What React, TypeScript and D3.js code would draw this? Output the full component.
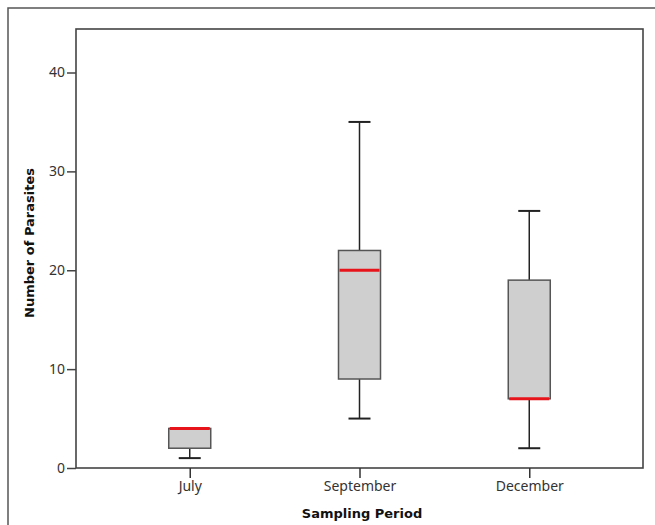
import React, { useEffect, useRef } from 'react';
import * as d3 from 'd3';

// box plot stats
const periods = ['July', 'September', 'December'];
const whiskerLow = [1, 5, 2];
const q1 = [2, 9, 7];
const medians = [4, 20, 7];
const q3 = [4, 22, 19];
const whiskerHigh = [4, 35, 26];
const yTicks = [0, 10, 20, 30, 40];

const width = 655;
const height = 525;

export default function App() {
  const ref = useRef<SVGSVGElement>(null);

  useEffect(() => {
    drawChart();
  }, []);

  function drawChart() {
    const svg = d3.select(ref.current);
    svg.selectAll('*').remove();

    const left = 76, right = 643, top = 29, bottom = 468;

    const x = d3.scalePoint().domain(periods).range([left, right]).padding(0.67);
    const y = d3.scaleLinear().domain([0, 44.4]).range([bottom, top]);

    // outer frame (only left and top edges are visible)
    svg.append('path')
      .attr('d', `M8,${height} V8 H${width}`)
      .attr('fill', 'none')
      .attr('stroke', '#555')
      .attr('stroke-width', 1.5);

    // plot frame
    svg.append('rect')
      .attr('x', left).attr('y', top)
      .attr('width', right - left).attr('height', bottom - top)
      .attr('fill', 'none')
      .attr('stroke', '#444')
      .attr('stroke-width', 1.6);

    const yAxis = svg.append('g')
      .attr('transform', `translate(${left},0)`)
      .call(d3.axisLeft(y).tickValues(yTicks).tickSize(9).tickPadding(2).tickFormat(d3.format('d')));
    yAxis.select('.domain').remove();
    yAxis.selectAll('line').attr('stroke', '#444').attr('stroke-width', 1.5);
    yAxis.selectAll('text')
      .attr('font-family', '"Noto Sans", sans-serif')
      .attr('font-size', 14)
      .attr('fill', '#333');

    const xAxis = svg.append('g')
      .attr('transform', `translate(0,${bottom})`)
      .call(d3.axisBottom(x).tickSize(10).tickPadding(3));
    xAxis.select('.domain').remove();
    xAxis.selectAll('line').attr('stroke', '#333').attr('stroke-width', 1.5);
    xAxis.selectAll('text')
      .attr('font-family', '"Noto Sans", sans-serif')
      .attr('font-size', 14)
      .attr('fill', '#333');

    const boxW = 42;
    const capW = 22;
    const g = svg.append('g');

    periods.forEach((p, i) => {
      const cx = x(p) as number;
      // whiskers
      g.append('line')
        .attr('x1', cx).attr('x2', cx)
        .attr('y1', y(whiskerHigh[i])).attr('y2', y(q3[i]))
        .attr('stroke', '#222').attr('stroke-width', 1.5);
      g.append('line')
        .attr('x1', cx).attr('x2', cx)
        .attr('y1', y(q1[i])).attr('y2', y(whiskerLow[i]))
        .attr('stroke', '#222').attr('stroke-width', 1.5);
      [whiskerLow[i], whiskerHigh[i]].forEach((v) => {
        if (v === q1[i] || v === q3[i]) return;
        g.append('line')
          .attr('x1', cx - capW / 2).attr('x2', cx + capW / 2)
          .attr('y1', y(v)).attr('y2', y(v))
          .attr('stroke', '#222').attr('stroke-width', 2);
      });
      // box
      g.append('rect')
        .attr('x', cx - boxW / 2)
        .attr('y', y(q3[i]))
        .attr('width', boxW)
        .attr('height', y(q1[i]) - y(q3[i]))
        .attr('fill', '#cfcfcf')
        .attr('stroke', '#555')
        .attr('stroke-width', 1.5);
      // median
      g.append('line')
        .attr('x1', cx - boxW / 2 + 1).attr('x2', cx + boxW / 2 - 1)
        .attr('y1', y(medians[i])).attr('y2', y(medians[i]))
        .attr('stroke', '#e8141c').attr('stroke-width', 3);
    });

    svg.append('text')
      .attr('x', 362).attr('y', 518)
      .attr('text-anchor', 'middle')
      .attr('font-family', '"DejaVu Sans", sans-serif')
      .attr('font-weight', 'bold')
      .attr('font-size', 13)
      .attr('fill', '#111')
      .text('Sampling Period');

    svg.append('text')
      .attr('transform', 'translate(34,243) rotate(-90)')
      .attr('text-anchor', 'middle')
      .attr('font-family', '"DejaVu Sans", sans-serif')
      .attr('font-weight', 'bold')
      .attr('font-size', 13)
      .attr('fill', '#111')
      .text('Number of Parasites');
  }

  return (
    <div style={{ position: 'absolute', left: 0, top: 0 }}>
      <svg ref={ref} width={width} height={height} style={{ display: 'block', background: '#fff' }} />
    </div>
  );
}
